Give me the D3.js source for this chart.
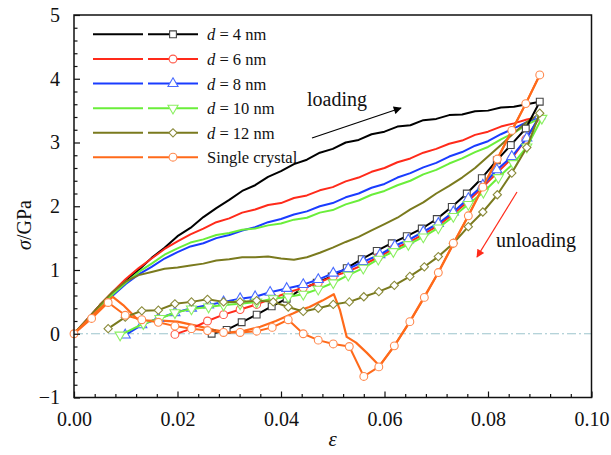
<!DOCTYPE html>
<html>
<head>
<meta charset="utf-8">
<script src="https://cdn.jsdelivr.net/npm/d3@7"></script>
<style>
body{margin:0;background:#fff;}
text{font-family:"Liberation Serif","Times New Roman",serif;fill:#111;}
</style>
</head>
<body>
<div id="plot"></div>
<script>
/* data */
var loadStrain = [0,0.0025,0.005,0.0075,0.01,0.0125,0.015,0.0175,0.02,0.0225,0.025,0.0275,0.03,0.0325,0.035,0.0375,
    0.04,0.0425,0.045,0.0475,0.05,0.0525,0.055,0.0575,0.06,0.0625,0.065,0.0675,0.07,0.0725,0.075,0.0775,0.08,0.0825,0.085,0.0875,0.09];

var load4  = [0,0.22,0.45,0.64,0.84,1.0,1.19,1.35,1.53,1.66,1.83,1.97,2.1,2.24,2.33,2.46,2.55,2.66,2.73,2.84,2.9,3.0,3.04,3.13,3.17,3.25,3.27,3.35,3.37,3.43,3.44,3.49,3.5,3.55,3.56,3.6,3.64];
var load6  = [0,0.22,0.45,0.66,0.86,1.03,1.18,1.33,1.45,1.56,1.65,1.75,1.81,1.9,1.95,2.02,2.05,2.13,2.17,2.25,2.3,2.39,2.45,2.54,2.6,2.69,2.75,2.84,2.9,2.98,3.03,3.12,3.17,3.25,3.3,3.36,3.4];
var load8  = [0,0.2,0.42,0.6,0.78,0.93,1.05,1.18,1.28,1.37,1.42,1.5,1.55,1.62,1.67,1.75,1.8,1.87,1.92,2.0,2.05,2.14,2.2,2.29,2.35,2.45,2.52,2.61,2.68,2.78,2.85,2.95,3.02,3.13,3.22,3.32,3.4];
var load10 = [0,0.21,0.43,0.62,0.8,0.97,1.1,1.24,1.34,1.43,1.48,1.55,1.58,1.63,1.65,1.7,1.73,1.79,1.82,1.9,1.94,2.03,2.09,2.18,2.24,2.33,2.4,2.5,2.57,2.67,2.75,2.85,2.93,3.05,3.15,3.28,3.38];
var load12 = [0,0.22,0.45,0.66,0.82,0.92,0.97,1.02,1.04,1.07,1.1,1.15,1.17,1.2,1.2,1.21,1.18,1.16,1.2,1.27,1.35,1.44,1.52,1.62,1.72,1.82,1.95,2.06,2.2,2.32,2.45,2.6,2.78,2.96,3.15,3.32,3.45];

// unloading paths (strain, stress), drawn with symbols
var unload4 = [[0.090,3.64],[0.0873,3.22],[0.0844,2.96],[0.0817,2.72],[0.0788,2.44],[0.0759,2.2],[0.073,1.99],[0.0701,1.8],
    [0.0672,1.65],[0.0643,1.53],[0.0614,1.42],[0.0585,1.3],[0.0556,1.17],[0.0527,1.03],[0.0498,0.9],[0.0469,0.8],[0.044,0.7],
    [0.0411,0.55],[0.0382,0.43],[0.0353,0.3],[0.0324,0.18],[0.0295,0.06],[0.0266,0.0]];
var unload6 = [[0.090,3.4],[0.0873,3.05],[0.0846,2.75],[0.0817,2.52],[0.079,2.3],[0.0762,2.08],[0.0733,1.88],[0.0704,1.7],
    [0.0675,1.56],[0.0646,1.43],[0.0617,1.33],[0.0588,1.2],[0.0559,1.08],[0.053,0.98],[0.0501,0.9],[0.0472,0.8],[0.0443,0.72],
    [0.0414,0.65],[0.0385,0.56],[0.0353,0.46],[0.0321,0.38],[0.0289,0.3],[0.0258,0.2],[0.0227,0.08],[0.0195,-0.01]];
var unload8 = [[0.090,3.42],[0.0875,3.07],[0.0846,2.78],[0.0817,2.57],[0.079,2.33],[0.0762,2.12],[0.0733,1.91],[0.0704,1.73],
    [0.0675,1.6],[0.0646,1.47],[0.062,1.38],[0.0591,1.24],[0.0559,1.13],[0.053,1.02],[0.0501,0.95],[0.0472,0.85],[0.0443,0.77],
    [0.0411,0.71],[0.0379,0.65],[0.035,0.58],[0.0321,0.55],[0.0289,0.5],[0.026,0.45],[0.0227,0.4],[0.0195,0.33],[0.0163,0.24],
    [0.0131,0.14],[0.0099,-0.02]];
var unload10 = [[0.0904,3.38],[0.0875,2.93],[0.0849,2.67],[0.082,2.45],[0.0791,2.22],[0.0762,2.03],[0.0733,1.84],[0.0704,1.66],
    [0.0675,1.52],[0.0646,1.4],[0.0617,1.29],[0.0588,1.17],[0.0559,1.03],[0.053,0.92],[0.0501,0.8],[0.0472,0.7],[0.0443,0.62],
    [0.0414,0.58],[0.0385,0.55],[0.0353,0.5],[0.0321,0.47],[0.0289,0.45],[0.026,0.42],[0.0227,0.39],[0.0195,0.33],[0.0166,0.24],
    [0.0134,0.16],[0.0089,-0.02]];
var unload12 = [[0.090,3.46],[0.0875,2.92],[0.0846,2.52],[0.0818,2.18],[0.079,1.91],[0.0762,1.68],[0.0733,1.42],[0.0704,1.21],
    [0.0677,1.05],[0.0649,0.9],[0.0619,0.76],[0.0589,0.66],[0.056,0.58],[0.0532,0.5],[0.0501,0.46],[0.0472,0.4],[0.0443,0.35],
    [0.0414,0.42],[0.0385,0.5],[0.0353,0.52],[0.0321,0.5],[0.0289,0.5],[0.0258,0.54],[0.0227,0.5],[0.0195,0.47],[0.0163,0.37],
    [0.0131,0.36],[0.0099,0.26],[0.0066,0.08]];

// single crystal: symbol path and plain path
var crystalSym = [[0,0],[0.0034,0.24],[0.0066,0.49],[0.0099,0.29],[0.0131,0.22],[0.0163,0.18],[0.0195,0.12],[0.0227,0.08],
    [0.0258,0.05],[0.0289,0.02],[0.0321,0.02],[0.0353,0.04],[0.0383,0.1],[0.0414,0.22],[0.0443,0.0],[0.0472,-0.1],[0.0501,-0.16],
    [0.0532,-0.2],[0.056,-0.67],[0.0589,-0.52],[0.0619,-0.19],[0.0649,0.19],[0.0677,0.57],[0.0704,0.96],[0.0733,1.42],
    [0.0762,1.85],[0.079,2.3],[0.0818,2.74],[0.0846,3.19],[0.0873,3.61],[0.090,4.06]];
var crystalLine = [[0.090,4.06],[0.0873,3.61],[0.0818,2.74],[0.0762,1.85],[0.0704,0.96],[0.0649,0.19],[0.0619,-0.19],[0.0589,-0.52],
    [0.0585,-0.46],[0.0566,-0.3],[0.0545,-0.14],[0.0527,-0.05],[0.0514,0.37],[0.0502,0.62],[0.048,0.52],[0.0455,0.42],
    [0.0437,0.37],[0.0424,0.32],[0.039,0.2],[0.036,0.11],[0.033,0.05],[0.03,0.02],[0.027,0.06],[0.024,0.12],[0.02,0.19],
    [0.016,0.21],[0.0135,0.2],[0.0121,0.24],[0.0095,0.45],[0.0075,0.58],[0.004,0.32],[0,0]];

var seriesNames = ["4","6","8","10","12","Single crystal"];
var lineColors = ["#000000","#ff2a1a","#1a3cff","#6aee3a","#7a7a1e","#ff6a1a"];
var symColors  = ["#444444","#ff5a4a","#4a6cff","#8af060","#8a8a3a","#ff8a50"];
var symbols    = ["square","circle","triangle","triangledown","diamond","circle"];

var xTicks = [0,0.02,0.04,0.06,0.08,0.10];
var yTicks = [-1,0,1,2,3,4,5];

/* canvas */
var margin = {t:15,r:19.5,b:57.5,l:74};
var W = 611, H = 455;
var width = W - margin.l - margin.r,
    height = H - margin.t - margin.b;

var svg = d3.select('#plot').append('svg')
    .attr('width',W).attr('height',H);
var plot = svg.append('g')
    .attr('transform','translate('+margin.l+','+margin.t+')');

var x = d3.scaleLinear().domain([0,0.10]).range([0,width]);
var y = d3.scaleLinear().domain([-1,5]).range([height,0]);

// zero reference line
plot.append('line')
    .attr('x1',0).attr('x2',width)
    .attr('y1',y(0)).attr('y2',y(0))
    .style('stroke','#9cc4cc').style('stroke-width',1)
    .style('stroke-dasharray','9,3,2,3');

var line = d3.line().x(function(d){return x(d[0])}).y(function(d){return y(d[1])});

function symPath(kind){
    if(kind=='square') return d3.symbol().type(d3.symbolSquare).size(46)();
    if(kind=='circle') return d3.symbol().type(d3.symbolCircle).size(48)();
    if(kind=='diamond') return d3.symbol().type(d3.symbolSquare).size(34)();
    return d3.symbol().type(d3.symbolTriangle).size(44)();
}
function symRot(kind){
    if(kind=='triangledown') return ' rotate(180)';
    if(kind=='diamond') return ' rotate(45)';
    return '';
}

var loads = [load4,load6,load8,load10,load12];
var unloads = [unload4,unload6,unload8,unload10,unload12];

// loading curves
loads.forEach(function(vals,i){
    var pts = loadStrain.map(function(e,j){return [e,vals[j]]});
    plot.append('path').datum(pts)
        .attr('d',line)
        .style('fill','none').style('stroke',lineColors[i]).style('stroke-width',2)
        .style('stroke-linejoin','round');
});

// single crystal plain path
plot.append('path').datum(crystalLine)
    .attr('d',line)
    .style('fill','none').style('stroke',lineColors[5]).style('stroke-width',2.2)
    .style('stroke-linejoin','round');

function drawSymbolSeries(pts,i){
    plot.append('path').datum(pts)
        .attr('d',line)
        .style('fill','none').style('stroke',lineColors[i]).style('stroke-width',2)
        .style('stroke-linejoin','round');
    plot.selectAll('.sym'+i).data(pts).enter()
        .append('path')
        .attr('class','sym'+i)
        .attr('d',symPath(symbols[i]))
        .attr('transform',function(d){return 'translate('+x(d[0])+','+y(d[1])+')'+symRot(symbols[i])})
        .style('fill','#fff').style('stroke',symColors[i]).style('stroke-width',1.1);
}

unloads.forEach(function(pts,i){ drawSymbolSeries(pts,i); });
drawSymbolSeries(crystalSym,5);

/* axes */
var minorX = d3.range(0,0.1001,0.004).filter(function(v){return Math.abs(v/0.02-Math.round(v/0.02))>1e-6});
var minorY = d3.range(-1,5.001,0.2).filter(function(v){return Math.abs(v-Math.round(v))>1e-6});

var xAxis = plot.append('g').attr('transform','translate(0,'+height+')')
    .call(d3.axisBottom(x).tickValues(xTicks).tickSize(-6).tickPadding(14)
        .tickFormat(d3.format('.2f')));
plot.append('g').attr('transform','translate(0,'+height+')')
    .call(d3.axisBottom(x).tickValues(minorX).tickSize(-3.5).tickFormat(''));
var yAxis = plot.append('g')
    .call(d3.axisLeft(y).tickValues(yTicks).tickSize(-6).tickPadding(14)
        .tickFormat(function(d){return d<0 ? '\u2212'+Math.abs(d) : d}));
plot.append('g')
    .call(d3.axisLeft(y).tickValues(minorY).tickSize(-3.5).tickFormat(''));

plot.selectAll('.domain').remove();
plot.selectAll('.tick line').style('stroke','#111').style('stroke-width',1.2);
plot.selectAll('.tick text').style('font-size','20px')
    .style('font-family','"Liberation Serif","Times New Roman",serif').style('fill','#111');

// frame
plot.append('rect')
    .attr('x',0).attr('y',0).attr('width',width).attr('height',height)
    .style('fill','none').style('stroke','#111').style('stroke-width',1.5);

// axis titles
svg.append('text')
    .attr('x',margin.l+width/2).attr('y',446)
    .attr('text-anchor','middle').style('font-size','21px').style('font-style','italic')
    .text('\u03b5');
var yt = svg.append('text')
    .attr('transform','translate(31,225) rotate(-90)')
    .attr('text-anchor','middle').style('font-size','20px');
yt.append('tspan').style('font-style','italic').text('\u03c3');
yt.append('tspan').text('/GPa');

/* legend */
var legendY = [34.3,59,83.6,108.2,132.8,157.2];
var leg = svg.append('g');
seriesNames.forEach(function(name,i){
    var g = leg.append('g').attr('transform','translate(0,'+legendY[i]+')');
    g.append('line').attr('x1',93).attr('x2',143).attr('y1',0).attr('y2',0)
        .style('stroke',lineColors[i]).style('stroke-width',2);
    g.append('line').attr('x1',148).attr('x2',198).attr('y1',0).attr('y2',0)
        .style('stroke',lineColors[i]).style('stroke-width',2);
    g.append('path').attr('d',symPath(symbols[i]))
        .attr('transform','translate(173,0)'+symRot(symbols[i]))
        .style('fill','#fff').style('stroke',symColors[i]).style('stroke-width',1.1);
    var t = g.append('text').attr('x',207).attr('y',6).style('font-size','16.5px');
    if(i<5){
        t.append('tspan').style('font-style','italic').text('d');
        t.append('tspan').text(' = '+name+' nm');
    } else {
        t.text(name);
    }
});

/* annotations */
var defs = svg.append('defs');
function arrowHead(id,color){
    defs.append('marker').attr('id',id)
        .attr('viewBox','0 0 10 10').attr('refX',9).attr('refY',5)
        .attr('markerWidth',11).attr('markerHeight',8).attr('markerUnits','userSpaceOnUse')
        .attr('orient','auto')
        .append('path').attr('d','M0,0 L10,5 L0,10 Z').style('fill',color);
}
arrowHead('ahBlack','#000');
arrowHead('ahRed','#ff2a1a');

svg.append('text').attr('x',307).attr('y',106).style('font-size','20px').text('loading');
svg.append('line').attr('x1',312).attr('y1',138).attr('x2',401).attr('y2',108)
    .style('stroke','#000').style('stroke-width',1.2).attr('marker-end','url(#ahBlack)');

svg.append('text').attr('x',496).attr('y',247).style('font-size','20px').text('unloading');
svg.append('line').attr('x1',517).attr('y1',192).attr('x2',477).attr('y2',257)
    .style('stroke','#ff2a1a').style('stroke-width',1.2).attr('marker-end','url(#ahRed)');
</script>
</body>
</html>
